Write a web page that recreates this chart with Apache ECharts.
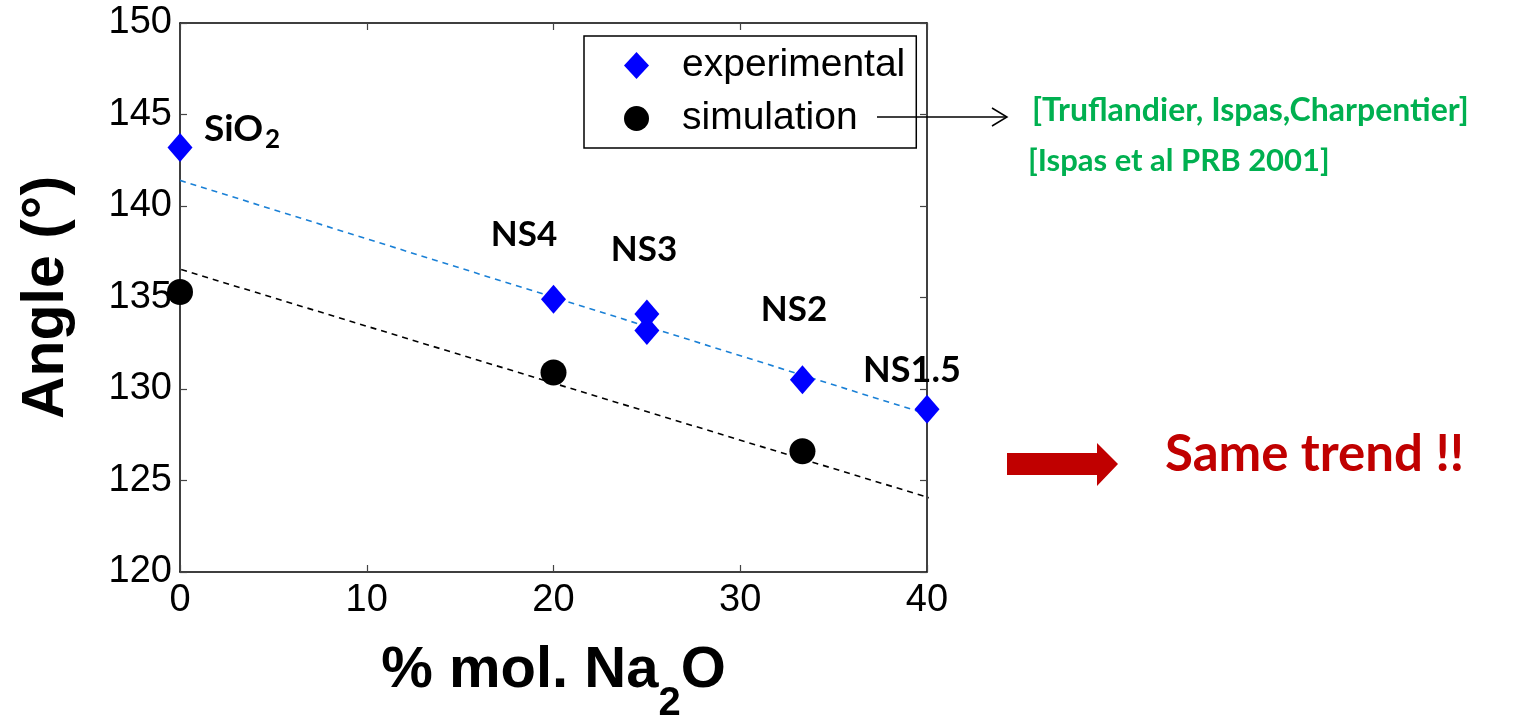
<!DOCTYPE html>
<html><head><meta charset="utf-8">
<script src="https://cdn.jsdelivr.net/npm/echarts@6/dist/echarts.min.js"></script>
<style>html,body{margin:0;padding:0;background:#fff}#c{width:1533px;height:717px}</style>
</head><body><div id="c"></div>
<script>
// ---- data ----
const xTickMin = 0, xTickMax = 40, xTickStep = 10;
const yTickMin = 120, yTickMax = 150, yTickStep = 5;
const expX = [0, 20, 25, 25, 33.33, 40];
const expY = [143.2, 134.9, 134.1, 133.2, 130.5, 128.9];
const simX = [0, 20, 33.33];
const simY = [135.3, 130.9, 126.6];
const expFitX = [0, 40.4];
const expFitY = [141.4, 128.5];
const simFitX = [-0.5, 40.3];
const simFitY = [136.7, 124.0];
const seriesNames = ['experimental', 'simulation'];

const zip = (a, b) => a.map((v, i) => [v, b[i]]);
const AX = 'Liberation Sans, Arial, sans-serif';
const CAL = 'Lato, "Open Sans", sans-serif';

const chart = echarts.init(document.getElementById('c'), null, {renderer: 'canvas'});

const baseX = {
  type: 'value', min: xTickMin, max: xTickMax, interval: xTickStep,
  axisLine: {show: true, onZero: false, lineStyle: {color: '#000', width: 1.5}},
  axisTick: {show: true, inside: true, length: 7, lineStyle: {color: '#444', width: 1.2}},
  splitLine: {show: false}
};
const baseY = {
  type: 'value', min: yTickMin, max: yTickMax, interval: yTickStep,
  axisLine: {show: true, onZero: false, lineStyle: {color: '#000', width: 1.5}},
  axisTick: {show: true, inside: true, length: 7, lineStyle: {color: '#444', width: 1.2}},
  splitLine: {show: false}
};

chart.setOption({
  animation: false,
  backgroundColor: '#fff',
  grid: {left: 180, right: 606, top: 23, bottom: 145, containLabel: false, outerBoundsMode: 'none'},
  xAxis: [
    Object.assign({}, baseX, {
      position: 'bottom',
      axisLabel: {fontSize: 38, fontFamily: AX, color: '#000', margin: 10},
      name: '{a|% mol. Na}{s|2}{a|O}',
      nameLocation: 'middle', nameGap: 70,
      nameTextStyle: {
        rich: {
          a: {fontSize: 58, fontWeight: 'bold', fontFamily: AX, color: '#000', lineHeight: 58, verticalAlign: 'top'},
          s: {fontSize: 40, fontWeight: 'bold', fontFamily: AX, color: '#000', lineHeight: 40, verticalAlign: 'top', padding: [42, 0, 0, 0]}
        }
      }
    }),
    Object.assign({}, baseX, {position: 'top', axisLabel: {show: false}})
  ],
  yAxis: [
    Object.assign({}, baseY, {
      position: 'left',
      axisLabel: {fontSize: 38, fontFamily: AX, color: '#000', margin: 8},
      name: 'Angle (°)', nameLocation: 'middle', nameRotate: 90, nameGap: 104,
      nameTextStyle: {fontSize: 59, fontWeight: 'bold', fontFamily: AX, color: '#000'}
    }),
    Object.assign({}, baseY, {position: 'right', axisLabel: {show: false}})
  ],
  legend: {
    data: seriesNames,
    orient: 'vertical', left: 584, top: 36,
    padding: [10, 11, 10, 40], itemGap: 14, itemWidth: 25, itemHeight: 27,
    borderColor: '#000', borderWidth: 1.5, backgroundColor: '#fff', borderRadius: 0,
    textStyle: {fontSize: 39, fontFamily: AX, color: '#000', lineHeight: 38, padding: [0, 0, 0, 28]}
  },
  series: [
    {
      type: 'line', data: zip(expFitX, expFitY), symbol: 'none', clip: false, silent: true,
      lineStyle: {color: '#1a80d6', width: 1.6, type: [6, 5]}, z: 2
    },
    {
      type: 'line', data: zip(simFitX, simFitY), symbol: 'none', clip: false, silent: true,
      lineStyle: {color: '#000', width: 1.6, type: [6, 5]}, z: 2
    },
    {
      name: seriesNames[0], type: 'scatter', data: zip(expX, expY),
      symbol: 'diamond', symbolSize: [25, 29], itemStyle: {color: '#0000ff', opacity: 1}, z: 5
    },
    {
      name: seriesNames[1], type: 'scatter', data: zip(simX, simY),
      symbol: 'circle', symbolSize: 26, itemStyle: {color: '#000', opacity: 1}, z: 5
    }
  ],
  graphic: [
    {type: 'text', x: 204, y: 129, style: {text: 'SiO', fontSize: 37, fontWeight: 'bold', fontFamily: CAL, fill: '#000', align: 'left', verticalAlign: 'middle'}},
    {type: 'text', x: 265, y: 140, style: {text: '2', fontSize: 26, fontWeight: 'bold', fontFamily: CAL, fill: '#000', align: 'left', verticalAlign: 'middle'}},
    {type: 'text', x: 524, y: 235, style: {text: 'NS4', fontSize: 35, fontWeight: 'bold', fontFamily: CAL, fill: '#000', align: 'center', verticalAlign: 'middle'}},
    {type: 'text', x: 644, y: 250, style: {text: 'NS3', fontSize: 35, fontWeight: 'bold', fontFamily: CAL, fill: '#000', align: 'center', verticalAlign: 'middle'}},
    {type: 'text', x: 794, y: 310, style: {text: 'NS2', fontSize: 35, fontWeight: 'bold', fontFamily: CAL, fill: '#000', align: 'center', verticalAlign: 'middle'}},
    {type: 'text', x: 912, y: 370, style: {text: 'NS1.5', fontSize: 36, fontWeight: 'bold', fontFamily: CAL, fill: '#000', align: 'center', verticalAlign: 'middle'}},
    {type: 'line', shape: {x1: 877, y1: 117, x2: 1006, y2: 117}, style: {stroke: '#000', lineWidth: 1.5}, z: 100},
    {type: 'polyline', shape: {points: [[992, 108], [1007, 117], [992, 126]]}, style: {stroke: '#000', lineWidth: 1.5, fill: null}, z: 100},
    {type: 'text', x: 1032, y: 111, style: {text: '[Truflandier, Ispas,Charpentier]', fontSize: 32, fontWeight: 'bold', fontFamily: CAL, fill: '#00B050', align: 'left', verticalAlign: 'middle'}},
    {type: 'text', x: 1028, y: 161, style: {text: '[Ispas et al PRB 2001]', fontSize: 31, fontWeight: 'bold', fontFamily: CAL, fill: '#00B050', align: 'left', verticalAlign: 'middle'}},
    {type: 'polygon', shape: {points: [[1007, 453], [1097, 453], [1097, 443], [1118, 464], [1097, 486], [1097, 475], [1007, 475]]}, style: {fill: '#C00000'}},
    {type: 'text', x: 1165, y: 455, style: {text: 'Same trend !!', fontSize: 51, fontWeight: 'bold', fontFamily: CAL, fill: '#C00000', align: 'left', verticalAlign: 'middle'}}
  ]
});
</script>
</body></html>
